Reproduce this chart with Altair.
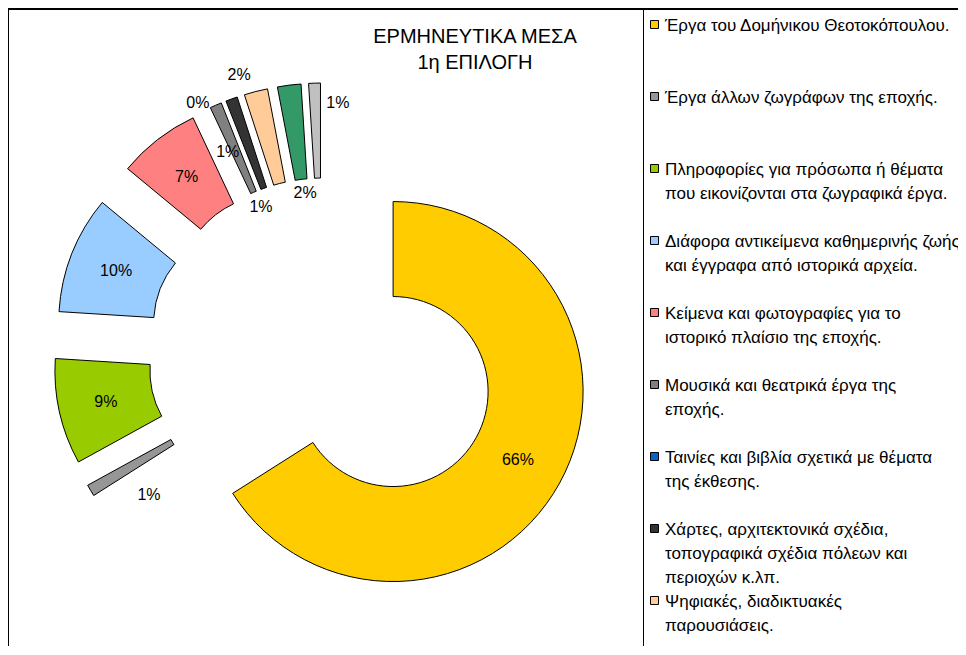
import altair as alt
import pandas as pd

# ---------------- data ----------------
categories = [
    "Έργα του Δομήνικου Θεοτοκόπουλου.",
    "Έργα άλλων ζωγράφων της εποχής.",
    "Πληροφορίες για πρόσωπα ή θέματα\nπου εικονίζονται στα ζωγραφικά έργα.",
    "Διάφορα αντικείμενα καθημερινής ζωής\nκαι έγγραφα από ιστορικά αρχεία.",
    "Κείμενα και φωτογραφίες για το\nιστορικό πλαίσιο της εποχής.",
    "Μουσικά και θεατρικά έργα της\nεποχής.",
    "Ταινίες και βιβλία σχετικά με θέματα\nτης έκθεσης.",
    "Χάρτες, αρχιτεκτονικά σχέδια,\nτοπογραφικά σχέδια πόλεων και\nπεριοχών κ.λπ.",
    "Ψηφιακές, διαδικτυακές\nπαρουσιάσεις.",
    "Άλλα μέσα.",
    "Δεν απάντησαν.",
]
values = [66, 1, 9, 10, 7, 1, 0, 1, 2, 2, 1]
title_lines = ["ΕΡΜΗΝΕΥΤΙΚΑ ΜΕΣΑ", "1η ΕΠΙΛΟΓΗ"]

# ---------------- style ----------------
colors = ["#FFCC00", "#969696", "#99CC00", "#99CCFF", "#FF8080", "#808080",
          "#0066CC", "#333333", "#FFCC99", "#339966", "#C0C0C0"]
W, H = 950, 638
CX, CY = 315, 345
R_OUT, R_IN = 190, 95
EXPLODE = 80
FONT = "Liberation Sans"
MID_R = EXPLODE + (R_OUT + R_IN) / 2
# label placement tweaks (angle shift in degrees, distance from centre)
label_tweak = {1: (-8.6, 224.6), 5: (-2.0, 222), 6: (-5.0, 279.5), 7: (-3.2, 158.6),
               8: (-2.4, 290), 9: (0.8, 161), 10: (5.2, 250)}

df = pd.DataFrame({
    "idx": list(range(len(values))),
    "cat": categories,
    "value": values,
    "ldelta": [label_tweak.get(i, (0.0, MID_R))[0] for i in range(len(values))],
    "lrad": [label_tweak.get(i, (0.0, MID_R))[1] for i in range(len(values))],
})

color = alt.Color("cat:N", scale=alt.Scale(domain=categories, range=colors), legend=None)

base = (
    alt.Chart(df)
    .transform_joinaggregate(total="sum(value)")
    .transform_window(cum="sum(value)", sort=[alt.SortField("idx")], frame=[None, 0])
    .transform_calculate(
        t1="datum.cum / datum.total * 2 * PI",
        t0="(datum.cum - datum.value) / datum.total * 2 * PI",
        mid="(datum.t0 + datum.t1) / 2",
        cx=f"{CX} + {EXPLODE} * sin(datum.mid)",
        cy=f"{CY} - {EXPLODE} * cos(datum.mid)",
        la="datum.mid + datum.ldelta * PI / 180",
        lx=f"{CX} + datum.lrad * sin(datum.la)",
        ly=f"{CY} - datum.lrad * cos(datum.la)",
        lab="round(datum.value / datum.total * 100) + '%'",
        gy="16.5 + 72 * datum.idx",
        gty="22.5 + 72 * datum.idx",
    )
)

arcs = base.transform_filter("datum.value > 0").mark_arc(
    radius=R_OUT, radius2=R_IN, stroke="black", strokeWidth=1
).encode(
    x=alt.X("cx:Q", scale=None, axis=None),
    y=alt.Y("cy:Q", scale=None, axis=None),
    theta=alt.Theta("t0:Q", scale=None, stack=None),
    theta2=alt.Theta2("t1:Q"),
    color=color,
)

labels = base.mark_text(fontSize=16, font=FONT, color="black").encode(
    x=alt.X("lx:Q", scale=None, axis=None),
    y=alt.Y("ly:Q", scale=None, axis=None),
    text="lab:N",
)

# legend box is cut off by the chart's lower edge: keep the entries that fit
legend_base = base.transform_filter(f"datum.gy < {H - 20}")

leg_sym = legend_base.mark_square(size=64, stroke="black", strokeWidth=1, opacity=1).encode(
    x=alt.value(646.5),
    y=alt.Y("gy:Q", scale=None, axis=None),
    color=color,
)

leg_txt = legend_base.mark_text(
    align="left", baseline="alphabetic", lineBreak="\n", lineHeight=24,
    fontSize=17, font=FONT, color="black"
).encode(
    x=alt.value(657),
    y=alt.Y("gty:Q", scale=None, axis=None),
    text="cat:N",
)

one = alt.Data(values=[{}])
frame_top = alt.Chart(one).mark_rule(color="black", strokeWidth=2).encode(
    x=alt.value(0), x2=alt.value(W), y=alt.value(1))
frame_left = alt.Chart(one).mark_rule(color="black", strokeWidth=2).encode(
    x=alt.value(0), y=alt.value(0), y2=alt.value(H))
legend_left = alt.Chart(one).mark_rule(color="black", strokeWidth=1).encode(
    x=alt.value(635.5), y=alt.value(0), y2=alt.value(H))

title = alt.Chart(one).mark_text(
    text=title_lines, fontSize=20, font=FONT, color="black",
    align="center", baseline="middle", lineHeight=26
).encode(x=alt.value(467), y=alt.value(29))

chart = alt.layer(
    arcs, labels, leg_sym, leg_txt, frame_top, frame_left, legend_left, title
).properties(
    width=W, height=H, padding=0,
    autosize=alt.AutoSizeParams(type="none"),
    background="white",
).configure_view(stroke=None)

chart.save("out.html", embed_options={"renderer": "svg", "actions": False})
